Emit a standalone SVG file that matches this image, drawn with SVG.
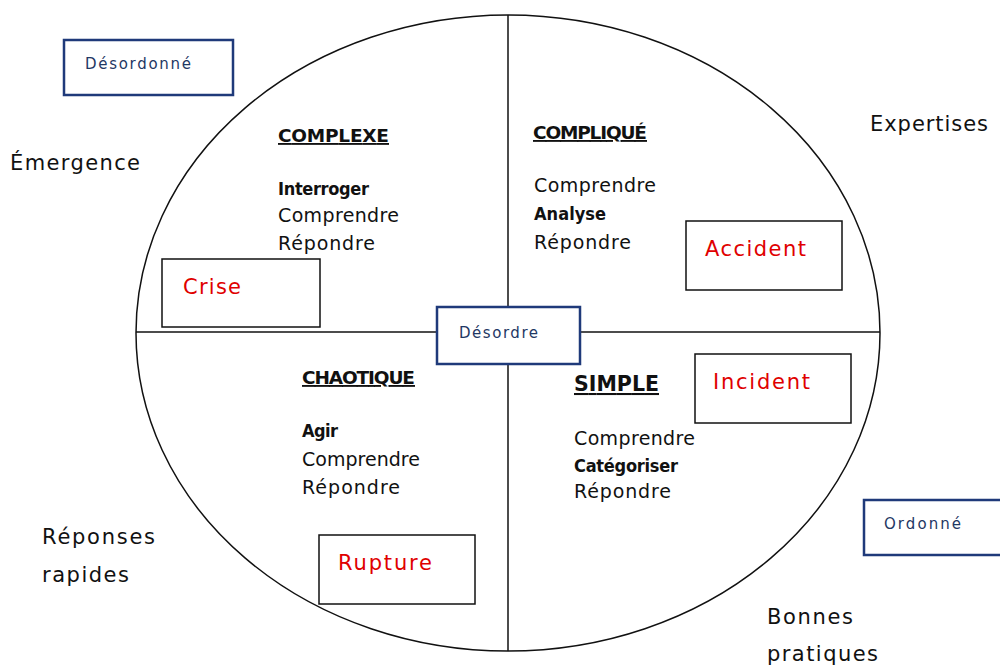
<svg xmlns="http://www.w3.org/2000/svg" width="1000" height="666" viewBox="0 0 1000 666">
<style>
text{font-family:"DejaVu Sans","Liberation Sans",sans-serif;fill:#111}
.t{font-size:19px}
.h{font-size:18.5px;font-weight:bold;text-decoration:underline}
.b{font-family:"DejaVu Sans Condensed","DejaVu Sans",sans-serif;font-stretch:condensed;font-weight:bold;font-size:18px}
.big{font-size:21px}
.red{font-size:21px;fill:#e00000}
.nv{font-size:15px;fill:#1f3864}
.kbox{fill:#fff;stroke:#111;stroke-width:1.5}
.nbox{fill:#fff;stroke:#1f3a7a;stroke-width:2.5}
</style>
<rect width="1000" height="666" fill="#fff"/>
<g id="connectors" stroke="#111" stroke-width="1.5" fill="none">
<ellipse cx="508" cy="333" rx="372" ry="318"/>
<line x1="508" y1="15" x2="508" y2="651"/>
<line x1="136" y1="332" x2="880" y2="332"/>
</g>
<g id="desordonne"><rect class="nbox" x="64" y="40" width="169" height="55"/><text class="nv" x="85" y="69" textLength="106">Désordonné</text></g>
<g id="emergence"><text class="big" x="10" y="170" textLength="130">Émergence</text></g>
<g id="expertises"><text class="big" x="870" y="131" textLength="118">Expertises</text></g>
<g id="reponses"><text class="big" x="42" y="544" textLength="113">Réponses</text><text class="big" x="42" y="582" textLength="87">rapides</text></g>
<g id="bonnes"><text class="big" x="767" y="624" textLength="86">Bonnes</text><text class="big" x="767" y="661" textLength="111">pratiques</text></g>
<g id="ordonne"><rect class="nbox" x="864" y="500" width="150" height="55"/><text class="nv" x="884" y="529" textLength="77">Ordonné</text></g>
<g id="complexe">
<text class="h" x="278" y="142" textLength="111">COMPLEXE</text>
<text class="b" x="278" y="195" textLength="91">Interroger</text>
<text class="t" x="278" y="222" textLength="121">Comprendre</text>
<text class="t" x="278" y="250" textLength="97">Répondre</text>
</g>
<g id="complique">
<text class="h" x="533" y="139" textLength="114">COMPLIQUÉ</text>
<text class="t" x="534" y="192" textLength="122">Comprendre</text>
<text class="b" x="534" y="220" textLength="72">Analyse</text>
<text class="t" x="534" y="249" textLength="97">Répondre</text>
</g>
<g id="chaotique">
<text class="h" x="302" y="384" textLength="113">CHAOTIQUE</text>
<text class="b" x="302" y="437" textLength="36">Agir</text>
<text class="t" x="302" y="466" textLength="118">Comprendre</text>
<text class="t" x="302" y="494" textLength="98">Répondre</text>
</g>
<g id="simple">
<text class="h" x="574" y="391" style="font-size:20.5px" textLength="85">SIMPLE</text>
<text class="t" x="574" y="445" textLength="121">Comprendre</text>
<text class="b" x="574" y="472" textLength="104">Catégoriser</text>
<text class="t" x="574" y="498" textLength="97">Répondre</text>
</g>
<g id="crise"><rect class="kbox" x="162" y="259" width="158" height="68"/><text class="red" x="183" y="294" textLength="58">Crise</text></g>
<g id="accident"><rect class="kbox" x="686" y="221" width="156" height="69"/><text class="red" x="705" y="256" textLength="101">Accident</text></g>
<g id="incident"><rect class="kbox" x="695" y="354" width="156" height="69"/><text class="red" x="713" y="389" textLength="97">Incident</text></g>
<g id="rupture"><rect class="kbox" x="319" y="535" width="156" height="69"/><text class="red" x="338" y="570" textLength="94">Rupture</text></g>
<g id="desordre"><rect class="nbox" x="437" y="307" width="143" height="57"/><text class="nv" x="459" y="338" textLength="79">Désordre</text></g>
</svg>
